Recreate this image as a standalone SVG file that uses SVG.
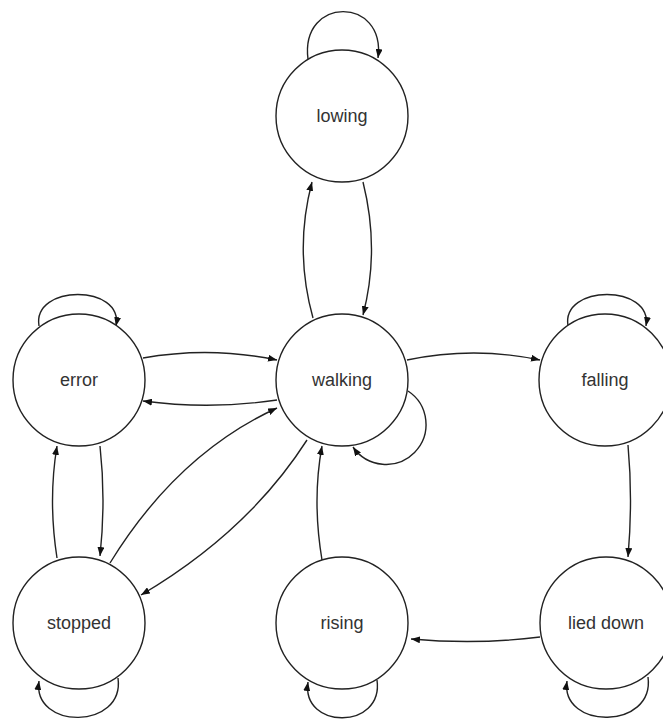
<svg xmlns="http://www.w3.org/2000/svg" width="663" height="722" viewBox="0 0 663 722">
<defs>
<marker id="arr" markerWidth="9" markerHeight="7" refX="9" refY="3.5" orient="auto" markerUnits="userSpaceOnUse">
<path d="M0,0 L9,3.5 L0,7 z" fill="#111"/>
</marker>
<style>
.n circle{fill:#fff;stroke:#222;stroke-width:1.4}
.n text{font-family:"Liberation Sans",Arial,sans-serif;font-size:18px;fill:#333;text-anchor:middle}
.e path{fill:none;stroke:#222;stroke-width:1.4;marker-end:url(#arr)}
</style>
</defs>
<rect width="663" height="722" fill="#fff"/>
<g class="e" id="connectors">
<path d="M308,59 C300,-4 386,-4 378,58"/>
<path d="M39,326 C32,284 124,284 116,326"/>
<path d="M568,326 C561,284 653,284 646,326"/>
<path d="M118,678 C125,730 32,730 39,681"/>
<path d="M377,680 C384,730 301,730 308,682"/>
<path d="M648,677 C655,730 560,730 567,681"/>
<path d="M408,391 A40,40 0 1 1 353,447"/>
<path d="M313,318 Q294,250 312,182"/>
<path d="M363,182 Q380,250 363,315"/>
<path d="M143,358 Q210,346 277,360"/>
<path d="M277,400 Q210,410 143,401"/>
<path d="M407,360 Q474,346 540,360"/>
<path d="M110,563 Q177,454 277,408"/>
<path d="M307,440 Q248,532 141,595"/>
<path d="M100,446 Q106,500 100,556"/>
<path d="M57,558 Q48,500 57,446"/>
<path d="M628,445 Q633,500 628,557"/>
<path d="M540,637 Q477,645 411,639"/>
<path d="M322,560 Q312,500 322,446"/>
</g>
<g class="n" id="lowing"><circle cx="342" cy="116" r="66"/><text x="342" y="122">lowing</text></g>
<g class="n" id="walking"><circle cx="342" cy="380" r="66"/><text x="342" y="386">walking</text></g>
<g class="n" id="error"><circle cx="79" cy="380" r="66"/><text x="79" y="386">error</text></g>
<g class="n" id="falling"><circle cx="605" cy="380" r="66"/><text x="605" y="386">falling</text></g>
<g class="n" id="stopped"><circle cx="79" cy="623" r="66"/><text x="79" y="629">stopped</text></g>
<g class="n" id="rising"><circle cx="342" cy="623" r="66"/><text x="342" y="629">rising</text></g>
<g class="n" id="lied_down"><circle cx="606" cy="623" r="66"/><text x="606" y="629">lied down</text></g>
</svg>
